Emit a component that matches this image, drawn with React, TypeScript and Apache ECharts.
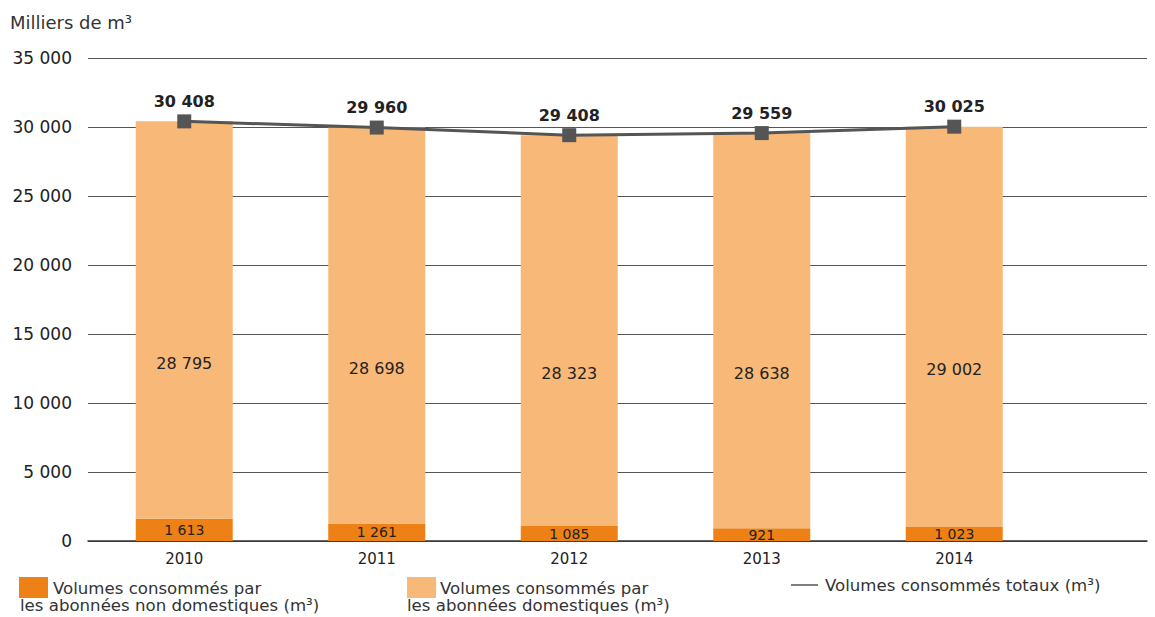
import React, { useEffect, useRef } from "react";
import * as echarts from "echarts";

const years = ["2010", "2011", "2012", "2013", "2014"];
const nonDomestic = [1613, 1261, 1085, 921, 1023];
const domestic = [28795, 28698, 28323, 28638, 29002];
const totals = [30408, 29960, 29408, 29559, 30025];
const yMin = 0;
const yMax = 35000;
const yStep = 5000;

const FONT = "'DejaVu Sans', sans-serif";
const fmt = (v: number) => String(v).replace(/\B(?=(\d{3})+(?!\d))/g, " ");

export default function App() {
  const ref = useRef<HTMLDivElement>(null);
  useEffect(() => {
    if (!ref.current) return;
    const chart = echarts.init(ref.current, undefined, { renderer: "svg" });
    const txt = (text: string, x: number, y: number, size = 16.6) => ({
      type: "text",
      x,
      y,
      style: { text, fill: "#333", font: `${size}px ${FONT}`, verticalAlign: "middle" },
    });
    chart.setOption({
      animation: false,
      textStyle: { fontFamily: FONT },
      grid: [
        { left: 88, right: 8, top: 58, bottom: 76 },
        { left: 88, right: 104.5, top: 58, bottom: 76 },
      ],
      xAxis: [
        {
          gridIndex: 0,
          type: "value",
          min: 0,
          max: 1,
          splitLine: { show: false },
          axisLine: { show: true, onZero: false, lineStyle: { color: "#333", width: 1.5 } },
          axisTick: { show: false },
          axisLabel: { show: false },
        },
        {
          gridIndex: 1,
          type: "category",
          data: years,
          axisLine: { show: false },
          axisTick: { show: false },
          axisLabel: { color: "#222", fontSize: 15, margin: 10, fontFamily: FONT },
        },
      ],
      yAxis: [
        {
          gridIndex: 0,
          type: "value",
          min: yMin,
          max: yMax,
          interval: yStep,
          axisLine: { show: false },
          axisTick: { show: false },
          splitLine: { lineStyle: { color: "#555", width: 1 } },
          axisLabel: {
            formatter: (v: number) => fmt(v),
            color: "#222",
            fontSize: 17,
            margin: 16,
            fontFamily: FONT,
          },
        },
        {
          gridIndex: 1,
          type: "value",
          min: yMin,
          max: yMax,
          interval: yStep,
          show: false,
          splitLine: { show: false },
        },
      ],
      graphic: [
        txt("Milliers de m³", 10, 22, 18),
        { type: "rect", shape: { x: 19, y: 577, width: 29, height: 21 }, style: { fill: "#EE8115" } },
        txt("Volumes consommés par", 53, 588),
        txt("les abonnées non domestiques (m³)", 20, 605),
        { type: "rect", shape: { x: 407, y: 577, width: 29, height: 21 }, style: { fill: "#F8B877" } },
        txt("Volumes consommés par", 440, 588),
        txt("les abonnées domestiques (m³)", 407, 605),
        {
          type: "line",
          shape: { x1: 791, y1: 585, x2: 818, y2: 585 },
          style: { stroke: "#555", lineWidth: 1.5 },
        },
        txt("Volumes consommés totaux (m³)", 825, 585),
      ],
      series: [
        {
          name: "Volumes consommés par les abonnées non domestiques (m³)",
          type: "bar",
          xAxisIndex: 1,
          yAxisIndex: 1,
          stack: "v",
          barWidth: 97,
          data: nonDomestic,
          itemStyle: { color: "#EE8115" },
          label: {
            show: true,
            position: "inside",
            formatter: (p: any) => fmt(p.value),
            color: "#222",
            fontSize: 14,
            fontFamily: FONT,
          },
        },
        {
          name: "Volumes consommés par les abonnées domestiques (m³)",
          type: "bar",
          xAxisIndex: 1,
          yAxisIndex: 1,
          stack: "v",
          barWidth: 97,
          data: domestic,
          itemStyle: { color: "#F8B877" },
          label: {
            show: true,
            position: "inside",
            offset: [0, 43],
            formatter: (p: any) => fmt(p.value),
            color: "#222",
            fontSize: 16,
            fontFamily: FONT,
          },
        },
        {
          name: "Volumes consommés totaux (m³)",
          type: "line",
          xAxisIndex: 1,
          yAxisIndex: 1,
          data: totals,
          symbol: "rect",
          symbolSize: 14,
          z: 5,
          lineStyle: { color: "#555", width: 3 },
          itemStyle: { color: "#555" },
          label: {
            show: true,
            position: "top",
            distance: 5,
            formatter: (p: any) => fmt(p.value),
            color: "#222",
            fontSize: 16,
            fontWeight: "bold",
            fontFamily: FONT,
          },
        },
      ],
    });
    return () => chart.dispose();
  }, []);
  return <div ref={ref} style={{ width: 1155, height: 617, position: "absolute", left: 0, top: 0 }} />;
}
